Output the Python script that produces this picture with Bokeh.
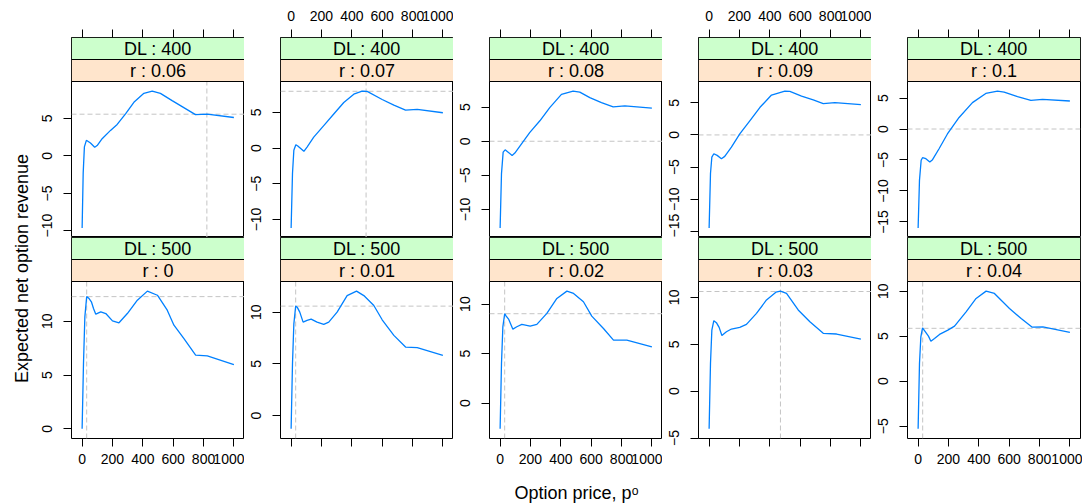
import math
from bokeh.plotting import figure
from bokeh.layouts import row, column
from bokeh.models import (Range1d, LinearAxis, SingleIntervalTicker, FixedTicker, Span, Label,
                          CustomLabelingPolicy)
from bokeh.core.properties import value
from bokeh.embed import file_html
from bokeh.resources import INLINE

FONT = "Liberation Sans"
LINE_COL = "#0080FF"
REF_COL = "#C4C4C4"
GREEN = "#CCFFCC"
PEACH = "#FFE5CC"

x_ticks = [0, 200, 400, 600, 800, 1000]
x_title = "Option price, p\u1d52"
y_title = "Expected net option revenue"

# ---- top row: DL = 400 ----
dl_top = 400
r_top = [0.06, 0.07, 0.08, 0.09, 0.1]

price_dl400_r006 = [0, 7, 15, 28, 55, 83, 99, 132, 187, 231, 286, 341, 407, 462, 516, 593, 659, 747, 824, 1000]
rev_dl400_r006 = [-9.6, -2.3, 1.2, 2.07, 1.72, 1.15, 1.37, 2.29, 3.39, 4.19, 5.6, 7.14, 8.33, 8.63, 8.33, 7.36, 6.56, 5.5, 5.55, 5.11]

price_dl400_r007 = [0, 9, 18, 31, 44, 84, 105, 149, 215, 281, 347, 413, 468, 501, 600, 677, 754, 831, 1000]
rev_dl400_r007 = [-11.18, -3.56, -0.32, 0.46, 0.28, -0.46, 0.14, 1.52, 3.14, 4.76, 6.37, 7.53, 7.97, 7.92, 6.79, 6.0, 5.31, 5.4, 4.94]

price_dl400_r008 = [0, 9, 20, 33, 53, 79, 97, 141, 196, 262, 327, 404, 481, 525, 591, 668, 745, 822, 1000]
rev_dl400_r008 = [-12.7, -4.74, -1.6, -1.26, -1.6, -2.08, -1.74, -0.39, 1.31, 3.0, 4.93, 6.87, 7.35, 7.2, 6.39, 5.66, 5.03, 5.18, 4.84]

price_dl400_r009 = [0, 9, 18, 31, 53, 81, 103, 147, 202, 268, 334, 411, 499, 532, 609, 686, 752, 829, 1000]
rev_dl400_r009 = [-14.46, -6.0, -3.44, -2.92, -3.18, -3.69, -3.33, -1.9, 0.15, 2.2, 4.26, 6.2, 6.82, 6.77, 6.05, 5.44, 4.87, 5.03, 4.72]

price_dl400_r010 = [0, 9, 20, 29, 51, 77, 95, 138, 193, 270, 358, 446, 523, 567, 655, 743, 820, 1000]
rev_dl400_r010 = [-15.96, -8.24, -5.05, -4.63, -4.79, -5.32, -4.95, -3.19, -0.8, 1.86, 4.26, 5.74, 6.12, 5.96, 5.21, 4.63, 4.79, 4.52]

vref_top = [822, 494, None, None, None]
href_top = [5.55, 7.94, 0, 0, 0]

# ---- bottom row: DL = 500 ----
dl_bottom = 500
r_bottom = [0, 0.01, 0.02, 0.03, 0.04]

price_dl500_r000 = [0, 9, 18, 30, 46, 61, 75, 90, 123, 156, 200, 243, 298, 364, 430, 496, 561, 605, 671, 748, 825, 1000]
rev_dl500_r000 = [0, 6.07, 10.4, 12.28, 12.1, 11.8, 11.18, 10.65, 10.87, 10.71, 10.03, 9.85, 10.71, 11.95, 12.79, 12.41, 11.02, 9.63, 8.39, 6.84, 6.78, 5.97]

price_dl500_r001 = [0, 9, 18, 30, 40, 57, 79, 105, 132, 171, 215, 248, 303, 369, 431, 479, 545, 600, 677, 754, 831, 1000]
rev_dl500_r001 = [-1.29, 5.0, 8.87, 10.58, 10.48, 10.0, 9.03, 9.2, 9.32, 9.03, 8.81, 9.03, 10.0, 11.6, 12.03, 11.6, 10.64, 9.26, 7.75, 6.62, 6.56, 5.82]

price_dl500_r002 = [0, 9, 18, 30, 40, 57, 84, 110, 143, 198, 242, 308, 374, 440, 484, 549, 604, 681, 747, 835, 1000]
rev_dl500_r002 = [-2.6, 4.0, 7.7, 9.03, 8.79, 8.45, 7.47, 7.71, 7.95, 7.78, 7.95, 9.06, 10.57, 11.31, 11.08, 10.24, 8.79, 7.54, 6.36, 6.36, 5.69]

price_dl500_r003 = [0, 9, 18, 31, 48, 66, 84, 114, 147, 202, 246, 312, 378, 440, 470, 510, 587, 664, 752, 840, 1000]
rev_dl500_r003 = [-4.02, 2.95, 6.51, 7.51, 7.3, 6.8, 5.94, 6.33, 6.62, 6.8, 7.12, 8.29, 9.72, 10.55, 10.66, 10.43, 8.65, 7.4, 6.16, 6.09, 5.55]

price_dl500_r004 = [0, 9, 18, 29, 48, 68, 84, 108, 141, 196, 240, 316, 382, 448, 503, 602, 679, 752, 822, 1000]
rev_dl500_r004 = [-5.3, 1.96, 4.93, 5.93, 5.48, 5.0, 4.44, 4.74, 5.19, 5.67, 6.11, 7.7, 9.19, 10.0, 9.74, 8.07, 6.96, 6.0, 6.04, 5.41]

vref_bottom = [30, 30, 30, 470, 30]
href_bottom = [12.28, 10.58, 9.03, 10.62, 5.87]

top_series = [(price_dl400_r006, rev_dl400_r006), (price_dl400_r007, rev_dl400_r007),
              (price_dl400_r008, rev_dl400_r008), (price_dl400_r009, rev_dl400_r009),
              (price_dl400_r010, rev_dl400_r010)]
bottom_series = [(price_dl500_r000, rev_dl500_r000), (price_dl500_r001, rev_dl500_r001),
                 (price_dl500_r002, rev_dl500_r002), (price_dl500_r003, rev_dl500_r003),
                 (price_dl500_r004, rev_dl500_r004)]

STRIP_H = 22
LEFT_B = 36
FRAME_W = 173
TOP_B = 37
BOTTOM_B = 37

HIDE_ALL = "for (const i of indices) { indices.unset(i) }\nreturn indices"


def style_axis(ax, show_labels, standoff):
    ax.axis_line_color = None
    ax.major_tick_line_color = "black"
    ax.major_tick_out = 8
    ax.major_tick_in = 0
    ax.minor_tick_line_color = None
    ax.major_label_text_font = FONT
    ax.major_label_text_font_size = "14px"
    ax.major_label_text_color = "black"
    ax.major_label_standoff = standoff
    if not show_labels:
        ax.major_label_policy = CustomLabelingPolicy(code=HIDE_ALL)


def make_panel(x, y, dl, r, vref, href, col, rowi):
    last = col == 4
    plot_h = 156 if rowi == 0 else 157
    frame_h = plot_h + 2 * STRIP_H
    xmin, xmax = min(x), max(x)
    xpad = 0.07 * (xmax - xmin)
    ymin, ymax = min(y), max(y)
    ypad = 0.07 * (ymax - ymin)
    xs, xe = xmin - xpad, xmax + xpad
    ys, ye = ymin - ypad, ymax + ypad
    ye_ext = ye + (ye - ys) * 2 * STRIP_H / plot_h
    top = TOP_B if rowi == 0 else 0
    bottom = 0 if rowi == 0 else BOTTOM_B
    right = 2 if last else 0
    p = figure(width=LEFT_B + FRAME_W + right, height=top + frame_h + bottom,
               x_range=Range1d(xs, xe), y_range=Range1d(ys, ye_ext),
               x_axis_location=None, y_axis_location=None,
               toolbar_location=None, output_backend="svg",
               min_border_left=LEFT_B, min_border_right=right,
               min_border_top=top, min_border_bottom=bottom)
    p.grid.visible = False
    p.outline_line_color = "black"
    p.outline_line_alpha = 1.0
    p.background_fill_color = "white"
    p.border_fill_color = "white"

    yax = LinearAxis(ticker=SingleIntervalTicker(interval=5, num_minor_ticks=0), bounds=(ys, ye))
    style_axis(yax, True, 11)
    yax.major_label_orientation = "vertical"
    p.add_layout(yax, "left")

    xax = LinearAxis(ticker=FixedTicker(ticks=x_ticks))
    if rowi == 0:
        style_axis(xax, col in (1, 3), 9)
        p.add_layout(xax, "above")
    else:
        style_axis(xax, col in (0, 2, 4), 7)
        p.add_layout(xax, "below")

    # reference lines
    if href is not None:
        sp = Span(location=href, dimension="width", line_color=REF_COL,
                  line_dash="5 3", line_width=1, level="underlay")
        p.add_layout(sp)
    if vref is not None:
        p.segment(x0=[vref], x1=[vref], y0=[ys], y1=[ye], line_color=REF_COL,
                  line_dash="5 3", line_width=1)

    p.line(x, y, line_color=LINE_COL, line_width=1.3)

    # strips
    p.extra_x_ranges = {"sx": Range1d(0, 1)}
    p.extra_y_ranges = {"sy": Range1d(0, frame_h)}
    p.quad(left=[0, 0], right=[1, 1], bottom=[plot_h, plot_h + STRIP_H],
           top=[plot_h + STRIP_H, frame_h], fill_color=[PEACH, GREEN],
           line_color="black", line_width=1, x_range_name="sx", y_range_name="sy")
    p.text(x=[0.5, 0.5], y=[plot_h + STRIP_H / 2, plot_h + 1.5 * STRIP_H],
           text=[f"r : {r:g}", f"DL : {dl}"], text_align="center", text_baseline="middle",
           text_font=value(FONT), text_font_size="18px", text_color="black",
           x_range_name="sx", y_range_name="sy")
    return p


top_panels = [make_panel(px, py, dl_top, r, v, h, i, 0)
              for i, ((px, py), r, v, h) in enumerate(zip(top_series, r_top, vref_top, href_top))]
bottom_panels = [make_panel(px, py, dl_bottom, r, v, h, i, 1)
                 for i, ((px, py), r, v, h) in enumerate(zip(bottom_series, r_bottom, vref_bottom, href_bottom))]

panels_h = (TOP_B + 156 + 2 * STRIP_H) + (157 + 2 * STRIP_H + BOTTOM_B)
panels_w = 4 * (LEFT_B + FRAME_W) + LEFT_B + FRAME_W + 2

yt = figure(width=35, height=panels_h, x_range=Range1d(0, 35), y_range=Range1d(0, panels_h),
            x_axis_location=None, y_axis_location=None, toolbar_location=None,
            output_backend="svg", min_border=0)
yt.grid.visible = False
yt.outline_line_color = None
yt.add_layout(Label(x=21, y=panels_h - 268, text=y_title, angle=math.pi / 2,
                    text_align="center", text_baseline="middle", text_font=FONT,
                    text_font_size="18px", text_color="black"))

XT_H = 28
xt = figure(width=panels_w, height=XT_H, x_range=Range1d(0, panels_w), y_range=Range1d(0, XT_H),
            x_axis_location=None, y_axis_location=None, toolbar_location=None,
            output_backend="svg", min_border=0)
xt.grid.visible = False
xt.outline_line_color = None
xt.add_layout(Label(x=576 - 35, y=XT_H - 17, text=x_title, text_align="center",
                    text_baseline="middle", text_font=FONT, text_font_size="18px",
                    text_color="black"))

layout = row(yt, column(row(*top_panels), row(*bottom_panels), xt))

open("out.html", "w").write(file_html(layout, INLINE, "chart"))
